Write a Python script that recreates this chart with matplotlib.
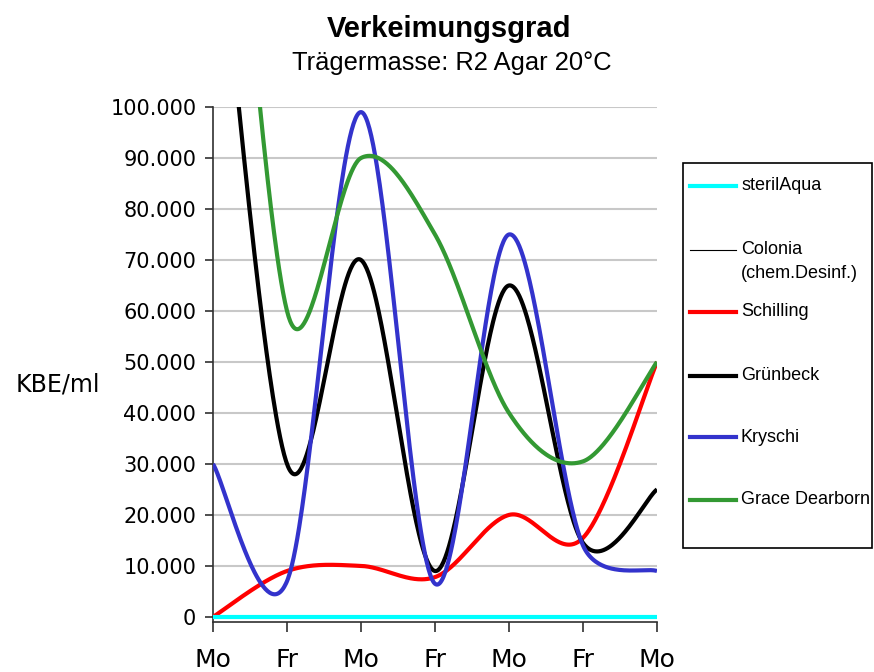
import numpy as np
import matplotlib
matplotlib.use('Agg')
import matplotlib.pyplot as plt
from matplotlib.ticker import FuncFormatter, MultipleLocator
from matplotlib.lines import Line2D
from matplotlib.patches import Rectangle

# ---------------- data ----------------
days = ['Mo', 'Fr', 'Mo', 'Fr', 'Mo', 'Fr', 'Mo']
steril_aqua = [0, 0, 0, 0, 0, 0, 0]
colonia = [0, 0, 0, 0, 0, 0, 0]
schilling = [0, 9000, 10000, 7800, 20000, 15500, 50000]
gruenbeck = [150000, 30000, 70000, 9000, 65000, 14500, 25000]
kryschi = [30000, 7000, 99000, 6500, 75000, 14000, 9000]
grace_dearborn = [205000, 60000, 90000, 75000, 40000, 30500, 50000]

series_names = ['sterilAqua', 'Colonia\n(chem.Desinf.)', 'Schilling',
                'Grünbeck', 'Kryschi', 'Grace Dearborn']
series_values = [steril_aqua, colonia, schilling, gruenbeck, kryschi, grace_dearborn]
colors = ['#00FFFF', '#000000', '#FF0000', '#000000', '#3333CC', '#339933']
widths = [3.0, 0.8, 3.0, 3.0, 3.0, 3.0]
zorders = [6, 2, 3, 4, 5, 5.5]

W, H = 874, 672
fig = plt.figure(figsize=(W / 100, H / 100), dpi=100)
ax = fig.add_axes([213 / W, 1 - 622 / H, (657 - 213) / W, (622 - 107) / H])
ax.set_xlim(0, 6)
ax.set_ylim(-1000, 100000)


def excel_smooth(ax, xs, ys, n=80):
    """Excel-style smoothed line (Bezier with clamped control points),
    computed in display space."""
    P = ax.transData.transform(np.column_stack([xs, ys]).astype(float))
    N = len(P)
    segs = []
    t = np.linspace(0, 1, n)[:, None]
    for i in range(N - 1):
        p0 = P[max(i - 1, 0)]
        p1 = P[i]
        p2 = P[i + 1]
        p3 = P[min(i + 2, N - 1)]
        d02 = np.hypot(*(p2 - p0))
        d12 = np.hypot(*(p2 - p1))
        d13 = np.hypot(*(p3 - p1))
        f1 = 1 / 6 if d02 / 6 < d12 / 2 else d12 / (2 * d02)
        f2 = 1 / 6 if d13 / 6 < d12 / 2 else d12 / (2 * d13)
        c1 = p1 + (p2 - p0) * f1
        c2 = p2 - (p3 - p1) * f2
        B = (1 - t) ** 3 * p1 + 3 * (1 - t) ** 2 * t * c1 + 3 * (1 - t) * t ** 2 * c2 + t ** 3 * p2
        segs.append(B if i == 0 else B[1:])
    pts = np.vstack(segs)
    out = ax.transData.inverted().transform(pts)
    return out[:, 0], out[:, 1]


xs = np.arange(len(days))
for vals, c, lw, z in zip(series_values, colors, widths, zorders):
    sx, sy = excel_smooth(ax, xs, vals)
    ax.plot(sx, sy, color=c, lw=lw, zorder=z, solid_capstyle='butt', solid_joinstyle='round')

# axes styling
for s in ['top', 'right']:
    ax.spines[s].set_visible(False)
for s in ['left', 'bottom']:
    ax.spines[s].set_color('#303030')
    ax.spines[s].set_linewidth(1.2)
ax.yaxis.set_major_locator(MultipleLocator(10000))
ax.yaxis.set_major_formatter(FuncFormatter(lambda v, p: f"{int(round(v)):,}".replace(',', '.')))
ax.set_xticks(xs)
ax.set_xticklabels(days)
ax.yaxis.grid(True, color='#C8C8C8', lw=1.5)
ax.set_axisbelow(True)
ax.tick_params(axis='y', direction='out', length=6, width=1.2, color='#303030',
               labelsize=15, pad=6)
ax.tick_params(axis='x', direction='out', length=7, width=1.2, color='#303030',
               labelsize=18, pad=12)
for lab in ax.get_yticklabels() + ax.get_xticklabels():
    lab.set_family('DejaVu Sans')

# titles
fig.text(449 / W, 1 - 37 / H, 'Verkeimungsgrad', ha='center', va='baseline',
         fontsize=21, fontweight='bold', family='Liberation Sans')
fig.text(452 / W, 1 - 70 / H, 'Trägermasse: R2 Agar 20°C', ha='center', va='baseline',
         fontsize=18.4, family='Liberation Sans')
fig.text(16 / W, 1 - 391 / H, 'KBE/ml', ha='left', va='baseline',
         fontsize=17, family='DejaVu Sans')

# legend (manual, Excel-like)
fig.patches.append(Rectangle((683 / W, 1 - 548 / H), 189 / W, 385 / H,
                             transform=fig.transFigure, facecolor='white',
                             edgecolor='black', lw=1.2, zorder=1))
entry_y = [186, 250, 312, 376, 437, 500]
for name, c, lw, yy in zip(series_names, colors, widths, entry_y):
    fig.add_artist(Line2D([690 / W, 736 / W], [1 - yy / H, 1 - yy / H],
                          transform=fig.transFigure, color=c, lw=lw, zorder=3))
    for k, line in enumerate(name.split('\n')):
        fig.text(741 / W, 1 - (yy + 24 * k) / H, line, ha='left', va='center',
                 fontsize=13, family='Liberation Sans', zorder=3)

fig.savefig('out.png', dpi=100)
